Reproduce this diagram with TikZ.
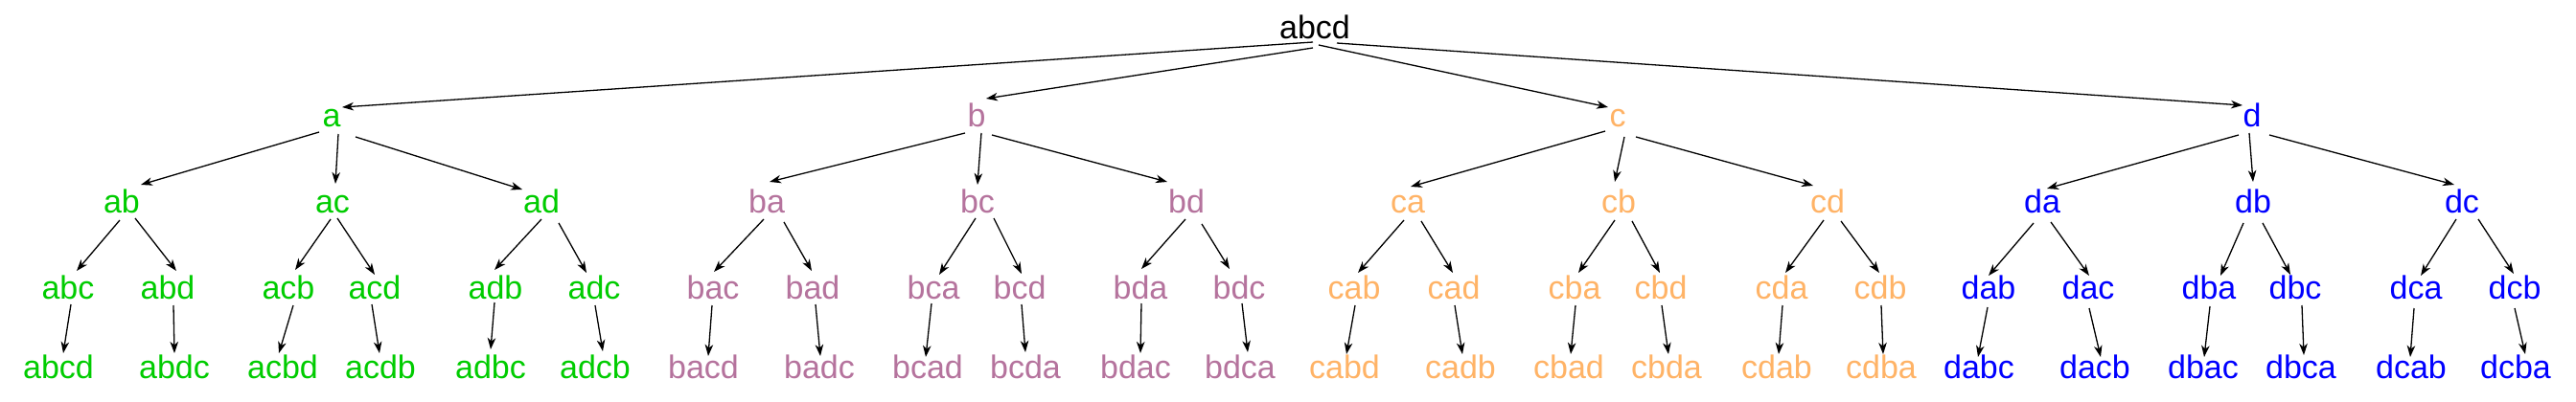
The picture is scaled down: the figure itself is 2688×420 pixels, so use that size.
\documentclass[tikz,border=0pt]{standalone}
\usepackage{fontspec}
\setmainfont{Liberation Sans}
\usetikzlibrary{arrows.meta}
\definecolor{cA}{HTML}{00CC00}
\definecolor{cB}{HTML}{B5739D}
\definecolor{cC}{HTML}{FFB366}
\definecolor{cD}{HTML}{0000FF}
\newcommand\edg[6]{\draw[edge] ([shift={(#2,#3)}]#1.base) -- ([shift={(#5,#6)}]#4.base);}
\newcommand\branch[6]{%
 \begin{scope}[shift={(#1,0)}]
 \node[lbl,#2] (#3) at (346,132) {#3};
 \node[lbl,#2] (#3#4) at (127,222) {#3#4};
 \node[lbl,#2] (#3#5) at (347,222) {#3#5};
 \node[lbl,#2] (#3#6) at (565,222) {#3#6};
 \node[lbl,#2] (#3#4#5) at (71,312) {#3#4#5};
 \node[lbl,#2] (#3#4#6) at (175,312) {#3#4#6};
 \node[lbl,#2] (#3#5#4) at (301,312) {#3#5#4};
 \node[lbl,#2] (#3#5#6) at (391,312) {#3#5#6};
 \node[lbl,#2] (#3#6#4) at (517,312) {#3#6#4};
 \node[lbl,#2] (#3#6#5) at (620,312) {#3#6#5};
 \node[lbl,#2] (#3#4#5#6) at (61,395) {#3#4#5#6};
 \node[lbl,#2] (#3#4#6#5) at (182,395) {#3#4#6#5};
 \node[lbl,#2] (#3#5#4#6) at (295,395) {#3#5#4#6};
 \node[lbl,#2] (#3#5#6#4) at (397,395) {#3#5#6#4};
 \node[lbl,#2] (#3#6#4#5) at (512,395) {#3#6#4#5};
 \node[lbl,#2] (#3#6#5#4) at (621,395) {#3#6#5#4};
 \end{scope}}
\begin{document}
\begin{tikzpicture}[x=1pt,y=-1pt,
  lbl/.style={anchor=base,inner sep=0pt,font=\fontsize{34}{40}\selectfont},
  edge/.style={draw=black,line width=1.3pt,-{Stealth[length=12pt,width=8.5pt,inset=3.5pt]}}]
\path[use as bounding box,fill=white] (0,0) rectangle (2688,420);
\node[lbl,black] (root) at (1372,41) {abcd};
\branch{0}{cA}{a}{b}{c}{d}
\branch{673}{cB}{b}{a}{c}{d}
\branch{1342}{cC}{c}{a}{b}{d}
\branch{2004}{cD}{d}{a}{b}{c}
% a branch
\edg{root}{-2}{3}{a}{11}{-20}
\edg{a}{-13}{6}{ab}{20}{-29}
\edg{a}{7}{8}{ac}{3}{-30}
\edg{a}{25}{11}{ad}{-20}{-24}
\edg{ab}{-2}{8}{abc}{9}{-29}
\edg{ab}{14}{6}{abd}{9}{-29}
\edg{ac}{-2}{7}{acb}{7}{-30}
\edg{ac}{5}{6}{acd}{0}{-25}
\edg{ad}{0}{7}{adb}{-1}{-30}
\edg{ad}{18}{11}{adc}{-8}{-27}
\edg{abc}{3}{6}{abcd}{5}{-26}
\edg{abd}{6}{7}{abdc}{0}{-26}
\edg{acb}{5}{7}{acbd}{-4}{-26}
\edg{acd}{-3}{6}{acdb}{-1}{-26}
\edg{adb}{-1}{4}{adbc}{0}{-30}
\edg{adc}{1}{7}{adcb}{8}{-28}
% b branch
\edg{root}{-2}{9}{b}{10}{-29}
\edg{b}{-12}{7}{ba}{3}{-32}
\edg{b}{5}{7}{bc}{0}{-29}
\edg{b}{16}{9}{bd}{-20}{-32}
\edg{ba}{-3}{7}{bac}{1}{-28}
\edg{ba}{18}{10}{bad}{-1}{-29}
\edg{bc}{-2}{6}{bca}{6}{-25}
\edg{bc}{17}{6}{bcd}{2}{-26}
\edg{bd}{-1}{7}{bda}{1}{-31}
\edg{bd}{16}{12}{bdc}{-10}{-31}
\edg{bac}{-1}{7}{bacd}{5}{-23}
\edg{bad}{3}{6}{badc}{1}{-23}
\edg{bca}{-2}{5}{bcad}{-2}{-22}
\edg{bcd}{2}{6}{bcda}{0}{-27}
\edg{bda}{1}{5}{bdac}{5}{-26}
\edg{bdc}{3}{5}{bdca}{8}{-27}
% c branch
\edg{root}{4}{6}{c}{-10}{-20}
\edg{c}{-13}{5}{ca}{3}{-27}
\edg{c}{7}{11}{cb}{-4}{-32}
\edg{c}{19}{11}{cd}{-15}{-28}
\edg{ca}{-4}{8}{cab}{4}{-27}
\edg{ca}{14}{9}{cad}{-1}{-27}
\edg{cb}{-4}{8}{cba}{4}{-27}
\edg{cb}{14}{9}{cbd}{-1}{-27}
\edg{cd}{-4}{8}{cda}{4}{-27}
\edg{cd}{14}{9}{cdb}{-1}{-27}
\edg{cab}{1}{7}{cabd}{2}{-25}
\edg{cad}{1}{7}{cadb}{2}{-25}
\edg{cba}{1}{7}{cbad}{2}{-25}
\edg{cbd}{1}{7}{cbda}{2}{-25}
\edg{cda}{1}{7}{cdab}{2}{-25}
\edg{cdb}{1}{7}{cdba}{2}{-25}
% d branch
\edg{root}{23}{4}{d}{-10}{-22}
\edg{d}{-14}{9}{da}{5}{-25}
\edg{d}{-3}{7}{db}{0}{-32}
\edg{d}{18}{9}{dc}{-8}{-29}
\edg{da}{-9}{11}{dab}{0}{-24}
\edg{da}{9}{10}{dac}{1}{-24}
\edg{db}{-10}{11}{dba}{12}{-24}
\edg{db}{10}{11}{dbc}{-5}{-25}
\edg{dc}{-6}{7}{dca}{5}{-24}
\edg{dc}{17}{7}{dcb}{-1}{-26}
\edg{dab}{-1}{9}{dabc}{-1}{-22}
\edg{dac}{1}{10}{dacb}{6}{-22}
\edg{dba}{1}{8}{dbac}{1}{-22}
\edg{dbc}{7}{7}{dbca}{3}{-24}
\edg{dca}{-2}{10}{dcab}{-1}{-22}
\edg{dcb}{0}{10}{dcba}{10}{-25}
\end{tikzpicture}
\end{document}
